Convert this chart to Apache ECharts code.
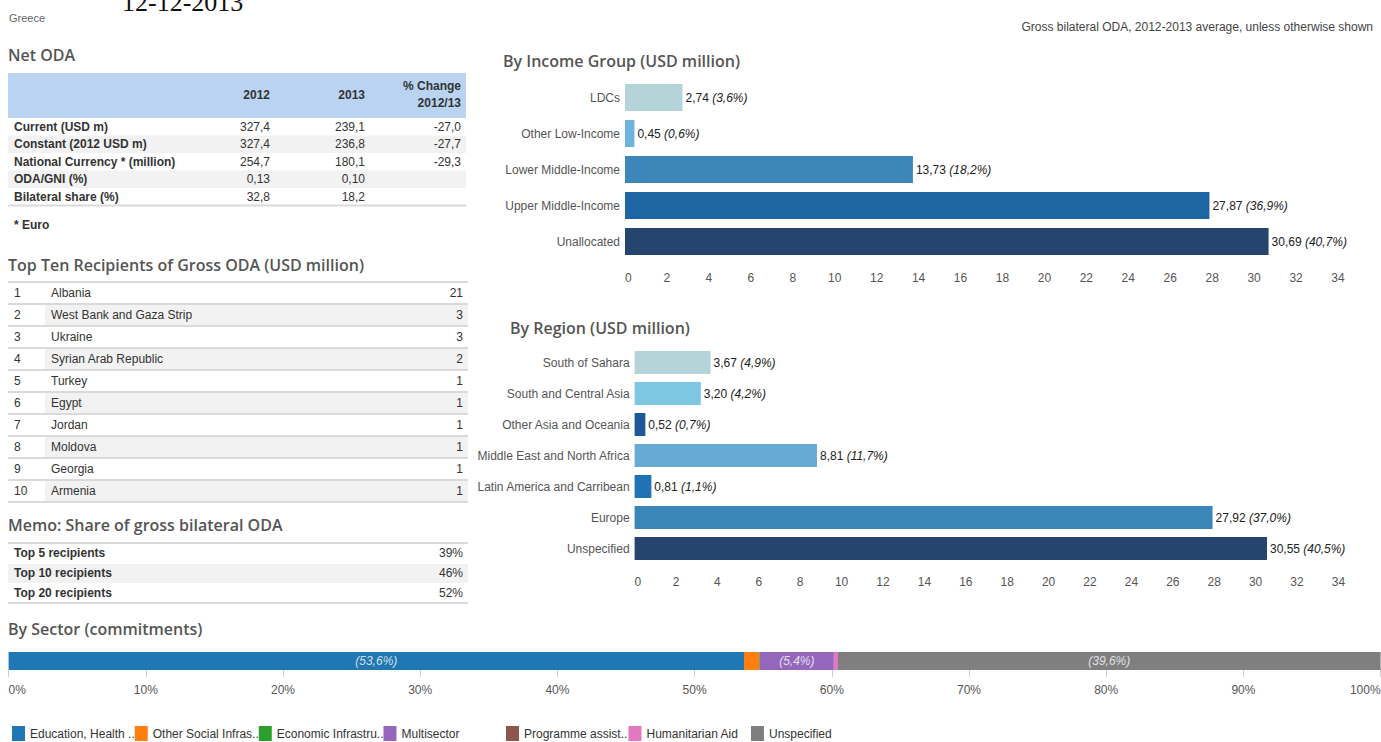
<!DOCTYPE html>
<html>
<head>
<meta charset="utf-8">
<title>Greece - aid at a glance</title>
<script src="https://cdn.jsdelivr.net/npm/echarts@6/dist/echarts.min.js"></script>
<style>
    html, body { margin: 0; padding: 0; background: #fff; }
    #page { width: 1381px; height: 742px; }
</style>
</head>
<body>
<div id="page"></div>
<script>
// Greece, gross bilateral ODA sheet (12-12-2013)

// Net ODA table
const odaRows = ['Current (USD m)', 'Constant (2012 USD m)', 'National Currency * (million)', 'ODA/GNI (%)', 'Bilateral share (%)'];
const oda2012 = [327.4, 327.4, 254.7, 0.13, 32.8];
const oda2013 = [239.1, 236.8, 180.1, 0.10, 18.2];
const odaChange = [-27.0, -27.7, -29.3, null, null];
const odaDecimals = [1, 1, 1, 2, 1];

// Top ten recipients (USD million)
const topRecipients = ['Albania', 'West Bank and Gaza Strip', 'Ukraine', 'Syrian Arab Republic', 'Turkey', 'Egypt', 'Jordan', 'Moldova', 'Georgia', 'Armenia'];
const topAmounts = [21, 3, 3, 2, 1, 1, 1, 1, 1, 1];

// Memo
const memoLabels = ['Top 5 recipients', 'Top 10 recipients', 'Top 20 recipients'];
const memoShares = [39, 46, 52];

// By income group
const incomeGroups = ['LDCs', 'Other Low-Income', 'Lower Middle-Income', 'Upper Middle-Income', 'Unallocated'];
const incomeValues = [2.74, 0.45, 13.73, 27.87, 30.69];
const incomeShares = [3.6, 0.6, 18.2, 36.9, 40.7];
const incomeColors = ['#b4d4da', '#6cb4de', '#3c86b9', '#1e65a3', '#25456e'];

// By region
const regions = ['South of Sahara', 'South and Central Asia', 'Other Asia and Oceania', 'Middle East and North Africa', 'Latin America and Carribean', 'Europe', 'Unspecified'];
const regionValues = [3.67, 3.20, 0.52, 8.81, 0.81, 27.92, 30.55];
const regionShares = [4.9, 4.2, 0.7, 11.7, 1.1, 37.0, 40.5];
const regionColors = ['#b4d4da', '#7ec7e2', '#1d5799', '#67aad4', '#2172b4', '#3a86b8', '#25456e'];

// By sector (commitments, % of total)
const sectors = ['Education, Health ..', 'Other Social Infras..', 'Economic Infrastru..', 'Multisector', 'Programme assist..', 'Humanitarian Aid', 'Unspecified'];
const sectorShares = [53.6, 1.1, 0.05, 5.4, 0, 0.3, 39.6];
const sectorColors = ['#1f77b4', '#ff7f0e', '#2ca02c', '#9467bd', '#8c564b', '#e377c2', '#7f7f7f'];

// ---- fonts: pick a narrow face if there is one, and size it like the original
const probe = document.createElement('canvas').getContext('2d');
function textWidth(font, str) {
    probe.font = font;
    return probe.measureText(str).width;
}
function fontExists(name) {
    const s = 'Wbyi 0123 Middle';
    return ['monospace', 'serif'].some(fb => textWidth('20px "' + name + '", ' + fb, s) !== textWidth('20px ' + fb, s));
}
const narrowName = ['Liberation Sans Narrow', 'Arial Narrow', 'Liberation Sans'].find(fontExists) || 'Arial';
const NARROW = '"' + narrowName + '", Arial, sans-serif';
const FS = Math.round(2 * 12 * 115 / textWidth('12px ' + NARROW, 'Lower Middle-Income')) / 2;
const HEAD = '"Open Sans", "Noto Sans", sans-serif';
const HS = Math.round(2 * 15 * 354 / textWidth('600 15px ' + HEAD, 'Top Ten Recipients of Gross ODA (USD million)')) / 2;

const comma = (v, d) => v.toFixed(d).replace('.', ',');

// ---- tables and headings as graphic elements
const bgs = [], lines = [], texts = [];
function text(str, x, y, o) {
    texts.push({
        type: 'text', x: x, y: y, silent: true,
        style: Object.assign({ text: str, fill: '#333', fontFamily: NARROW, fontSize: FS, align: 'left', verticalAlign: 'middle' }, o || {})
    });
}
function heading(str, x, y) {
    text(str, x, y, { fontFamily: HEAD, fontSize: HS, fontWeight: 600, fill: '#555' });
}
function rect(x, y, w, h, fill) {
    bgs.push({ type: 'rect', silent: true, shape: { x: x, y: y, width: w, height: h }, style: { fill: fill } });
}
function hline(x1, x2, y) {
    lines.push({ type: 'line', silent: true, shape: { x1: x1, y1: y, x2: x2, y2: y }, style: { stroke: '#dadada', lineWidth: 2 } });
}

text('12-12-2013', 122, 2, { fontFamily: '"Liberation Serif", "DejaVu Serif", serif', fontSize: 26, fill: '#111' });
text('Greece', 9, 18, { fontSize: FS - 1, fill: '#666' });
text('Gross bilateral ODA, 2012-2013 average, unless otherwise shown', 1373, 27, { align: 'right', fill: '#444' });

// Net ODA
heading('Net ODA', 8, 55);
rect(8, 73, 458, 45, '#bad3f0');
text('2012', 270, 95, { align: 'right', fontWeight: 'bold' });
text('2013', 365, 95, { align: 'right', fontWeight: 'bold' });
text('% Change', 461, 86, { align: 'right', fontWeight: 'bold' });
text('2012/13', 461, 103, { align: 'right', fontWeight: 'bold' });
odaRows.forEach((label, i) => {
    const top = 118 + 17.5 * i, mid = top + 8.5;
    if (i % 2 === 1) rect(8, top, 458, 17.5, '#f2f2f2');
    text(label, 14, mid, { fontWeight: 'bold' });
    text(comma(oda2012[i], odaDecimals[i]), 270, mid, { align: 'right' });
    text(comma(oda2013[i], odaDecimals[i]), 365, mid, { align: 'right' });
    if (odaChange[i] !== null) text(comma(odaChange[i], 1), 461, mid, { align: 'right' });
});
hline(8, 466, 205.5);
text('* Euro', 14, 225, { fontWeight: 'bold' });

// Top ten recipients
heading('Top Ten Recipients of Gross ODA (USD million)', 8, 265);
topRecipients.forEach((name, i) => {
    const top = 282 + 22 * i;
    if (i % 2 === 1) rect(45, top + 1, 423, 20, '#f2f2f2');
    hline(8, 468, top);
    text(String(i + 1), 14, top + 11);
    text(name, 51, top + 11);
    text(String(topAmounts[i]), 463, top + 11, { align: 'right' });
});
hline(8, 468, 282 + 22 * topRecipients.length);

// Memo
heading('Memo: Share of gross bilateral ODA', 8, 525);
hline(8, 468, 543);
memoLabels.forEach((label, i) => {
    const top = 543 + 20 * i;
    if (i % 2 === 1) rect(8, top + 1, 460, 19, '#f2f2f2');
    text(label, 14, top + 10, { fontWeight: 'bold' });
    text(memoShares[i] + '%', 463, top + 10, { align: 'right' });
});
hline(8, 468, 603);

heading('By Income Group (USD million)', 503, 61);
heading('By Region (USD million)', 510, 328);
heading('By Sector (commitments)', 8, 629);

// ---- charts
function valueLabel(shares) {
    return {
        show: true,
        position: 'right',
        distance: 3,
        formatter: p => '{v|' + comma(p.value, 2) + '} {p|(' + comma(shares[p.dataIndex], 1) + '%)}',
        rich: {
            v: { fontFamily: NARROW, fontSize: FS, color: '#222' },
            p: { fontFamily: NARROW, fontSize: FS, color: '#222', fontStyle: 'italic' }
        }
    };
}

function valueAxis(gridIndex, max, interval, fmt, margin) {
    return {
        type: 'value', gridIndex: gridIndex, min: 0, max: max, interval: interval,
        splitLine: { show: false },
        axisLine: { show: false },
        axisTick: { show: gridIndex === 2, length: 7, lineStyle: { color: '#cfcfcf' } },
        axisLabel: {
            color: '#555', fontFamily: NARROW, fontSize: FS, margin: margin,
            formatter: fmt, alignMinLabel: 'left', alignMaxLabel: gridIndex === 2 ? 'right' : 'center'
        }
    };
}

function categoryAxis(gridIndex, data) {
    return {
        type: 'category', gridIndex: gridIndex, data: data, inverse: true,
        axisLine: { show: false },
        axisTick: { show: false },
        axisLabel: { show: gridIndex !== 2, color: '#555', fontFamily: NARROW, fontSize: FS, margin: 5 }
    };
}

const sectorSeries = sectors.map((name, i) => ({
    name: name,
    type: 'bar',
    stack: 'sector',
    xAxisIndex: 2,
    yAxisIndex: 2,
    barWidth: 18,
    data: [sectorShares[i]],
    itemStyle: { color: sectorColors[i] },
    label: {
        show: sectorShares[i] >= 5,
        position: 'inside',
        formatter: p => '(' + comma(p.value, 1) + '%)',
        color: 'rgba(255,255,255,0.78)',
        fontStyle: 'italic',
        fontFamily: NARROW,
        fontSize: FS
    }
}));

const chart = echarts.init(document.getElementById('page'), null, { renderer: 'svg' });

const option = {
    animation: false,
    graphic: { elements: bgs.concat(lines, texts) },
    grid: [
        { left: 625, top: 79.5, width: 713, height: 180, outerBoundsMode: 'none' },
        { left: 634.6, top: 347, width: 703.8, height: 217, outerBoundsMode: 'none' },
        { left: 8.6, top: 652, width: 1372, height: 18, outerBoundsMode: 'none' }
    ],
    xAxis: [
        valueAxis(0, 34, 2, '{value}', 12),
        valueAxis(1, 34, 2, '{value}', 12),
        valueAxis(2, 100, 10, '{value}%', 14)
    ],
    yAxis: [
        categoryAxis(0, incomeGroups),
        categoryAxis(1, regions),
        categoryAxis(2, ['Sector'])
    ],
    legend: {
        data: sectors,
        left: 12,
        top: 726,
        padding: 0,
        icon: 'rect',
        itemWidth: 13,
        itemHeight: 15,
        itemGap: 0,
        selectedMode: false,
        textStyle: { color: '#333', fontFamily: NARROW, fontSize: FS, width: 104.5, backgroundColor: 'transparent' }
    },
    series: [
        {
            type: 'bar', xAxisIndex: 0, yAxisIndex: 0, barWidth: 27,
            data: incomeValues.map((v, i) => ({ value: v, itemStyle: { color: incomeColors[i] } })),
            label: valueLabel(incomeShares)
        },
        {
            type: 'bar', xAxisIndex: 1, yAxisIndex: 1, barWidth: 23,
            data: regionValues.map((v, i) => ({ value: v, itemStyle: { color: regionColors[i] } })),
            label: valueLabel(regionShares)
        }
    ].concat(sectorSeries)
};

chart.setOption(option);

window.addEventListener('resize', function() {
    chart.resize();
});
</script>
</body>
</html>
